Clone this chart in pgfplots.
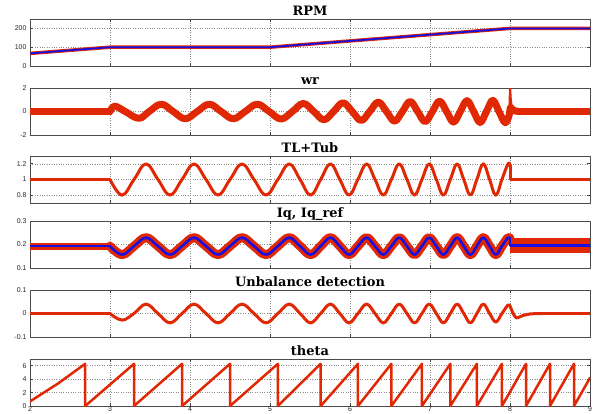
\documentclass[border=0pt]{standalone}
\usepackage{pgfplots}
\pgfplotsset{compat=1.18}
\usepackage{pgfplotstable}
\usepackage{fontspec}
\setmainfont{Liberation Sans}
\newfontfamily\titlefont{DejaVu Serif}
\definecolor{sred}{RGB}{225,40,5}
\definecolor{sblue}{RGB}{25,15,225}

% oscillating part, 3 s .. 8 s, one row every quarter period
\pgfplotstableread{
t tl iq un
3.000 1.0 0.193 0
3.150 0.8 0.157 -0.028
3.300 1.0 0.193 0
3.450 1.2 0.229 0.040
3.600 1.0 0.193 0
3.750 0.8 0.157 -0.040
3.900 1.0 0.193 0
4.050 1.2 0.229 0.040
4.200 1.0 0.193 0
4.350 0.8 0.157 -0.040
4.500 1.0 0.193 0
4.650 1.2 0.229 0.040
4.800 1.0 0.193 0
4.950 0.8 0.157 -0.040
5.098 1.0 0.193 0
5.240 1.2 0.229 0.040
5.376 1.0 0.193 0
5.507 0.8 0.157 -0.040
5.633 1.0 0.193 0
5.755 1.2 0.229 0.040
5.873 1.0 0.193 0
5.988 0.8 0.157 -0.040
6.099 1.0 0.193 0
6.207 1.2 0.229 0.040
6.313 1.0 0.193 0
6.416 0.8 0.157 -0.040
6.517 1.0 0.193 0
6.615 1.2 0.229 0.040
6.712 1.0 0.193 0
6.806 0.8 0.157 -0.040
6.899 1.0 0.193 0
6.990 1.2 0.229 0.040
7.079 1.0 0.193 0
7.167 0.8 0.157 -0.040
7.254 1.0 0.193 0
7.339 1.2 0.229 0.040
7.422 1.0 0.193 0
7.505 0.8 0.157 -0.040
7.586 1.0 0.193 0
7.666 1.2 0.229 0.040
7.745 1.0 0.193 0
7.822 0.8 0.157 -0.036
7.899 1.0 0.193 0
7.975 1.2 0.229 0.036
8.000 1.173 0.224 0.032
}\osc

\pgfplotsset{
  panel/.style={
    scale only axis, width=560bp, height=47bp, anchor=north west,
    xmin=2, xmax=9, xtick={2,...,9}, xticklabels={},
    grid=major, grid style={dotted, black!45, line width=0.6bp},
    axis line style={black!70, line width=1bp},
    every tick/.style={black!75, line width=0.8bp},
    major tick length=3bp, tick align=inside,
    ticklabel style={font=\fontsize{7}{8}\selectfont, text=black!85},
    xticklabel style={inner sep=0.8bp},
    every axis title shift=0pt,
    title style={at={(0.5,1)}, anchor=base, yshift=3.5bp,
      font=\titlefont\bfseries\fontsize{13}{15}\selectfont},
    every axis plot/.append style={line join=round, line cap=round},
  },
}

\begin{document}
\begin{tikzpicture}
\useasboundingbox (-30bp,19bp) rectangle (568bp,-395bp);

% RPM
\begin{axis}[panel, at={(0,0)}, title={RPM},
  ymin=0, ymax=250, ytick={0,100,200}, yticklabels={0,100,200}]
\addplot[sred, line width=3.5bp] coordinates {(2,67) (3,100) (5,100) (8,200) (9,200)};
\addplot[sblue, line width=1.8bp] coordinates {(2,67) (3,100) (5,100) (8,200) (9,200)};
\end{axis}

% wr
\begin{axis}[panel, at={(0,-69bp)}, title={wr},
  ymin=-2, ymax=2, ytick={-2,0,2}, yticklabels={-2,0,2}]
\addplot[sred, line width=6.5bp] coordinates {(2,0) (3,0)};
\addplot[sred, line width=7bp, smooth, tension=0.65] coordinates {
  (3,0) (3.06,0.45) (3.19,0) (3.36,-0.58) (3.49,0) (3.64,0.62) (3.79,0)
  (3.94,-0.62) (4.09,0) (4.24,0.62) (4.39,0) (4.54,-0.62) (4.69,0) (4.84,0.62)
  (4.99,0) (5.138,-0.64) (5.280,0) (5.416,0.68) (5.547,0) (5.673,-0.7)
  (5.795,0) (5.913,0.74) (6.028,0) (6.139,-0.76) (6.247,0) (6.353,0.8)
  (6.456,0) (6.557,-0.82) (6.655,0) (6.752,0.85) (6.846,0) (6.939,-0.86)
  (7.030,0) (7.119,0.88) (7.207,0) (7.294,-0.9) (7.379,0) (7.462,0.92)
  (7.545,0) (7.626,-0.93) (7.706,0) (7.785,0.95) (7.862,0) (7.939,-0.95)
  (7.99,-0.3) (8.005,0.35) (8.03,0.15) (8.07,0.04) (8.12,0)};
\addplot[sred, line width=6.5bp] coordinates {(8.12,0) (9,0)};
\addplot[sred, line width=2.4bp] coordinates {
  (7.998,0) (8.0,1.95) (8.008,1.0) (8.018,0.45)};
\end{axis}

% TL+Tub
\begin{axis}[panel, at={(0,-137bp)}, title={TL+Tub},
  ymin=0.7, ymax=1.3, ytick={0.8,1,1.2}, yticklabels={0.8,1,1.2}]
\addplot[sred, line width=3bp] coordinates {(2,1) (3,1)};
\addplot[sred, line width=3bp, smooth, tension=0.65] table[x=t, y=tl] {\osc};
\addplot[sred, line width=3bp] coordinates {(8,1.173) (8,1) (9,1)};
\end{axis}

% Iq, Iq_ref
\begin{axis}[panel, at={(0,-202bp)}, title={Iq, Iq\_ref},
  ymin=0.1, ymax=0.3, ytick={0.1,0.2,0.3}, yticklabels={0.1,0.2,0.3}]
\addplot[sred, line width=7bp, line cap=butt] coordinates {(2,0.192) (3,0.192)};
\addplot[sred, line width=9bp, smooth, tension=0.65] table[x=t, y=iq] {\osc};
\addplot[sred, line width=15bp, line cap=butt] coordinates {(8,0.195) (9,0.195)};
\addplot[sblue, line width=2.6bp] coordinates {(2,0.193) (3,0.193)};
\addplot[sblue, line width=2.6bp, smooth, tension=0.65] table[x=t, y=iq] {\osc};
\addplot[sblue, line width=2.6bp] coordinates {(8,0.224) (8,0.195) (9,0.195)};
\end{axis}

% Unbalance detection
\begin{axis}[panel, at={(0,-271bp)}, title={Unbalance detection},
  ymin=-0.1, ymax=0.1, ytick={-0.1,0,0.1}, yticklabels={-0.1,0,0.1}]
\addplot[sred, line width=3bp] coordinates {(2,0) (3,0)};
\addplot[sred, line width=3bp, smooth, tension=0.65] table[x=t, y=un] {\osc};
\addplot[sred, line width=3bp, smooth] coordinates {
  (8,0.032) (8.04,0) (8.08,-0.019) (8.15,-0.01) (8.25,-0.002) (8.4,0)};
\addplot[sred, line width=3bp] coordinates {(8.4,0) (9,0)};
\end{axis}

% theta
\begin{axis}[panel, at={(0,-340bp)}, title={theta},
  ymin=0, ymax=7, ytick={0,2,4,6}, yticklabels={0,2,4,6},
  xticklabels={2,3,4,5,6,7,8,9}]
\addplot[sred, line width=2.5bp] coordinates {
  (2,0.68) (2.35,3.35) (2.69,6.28) (2.69,0) (3.3,6.28) (3.3,0) (3.9,6.28) (3.9,0)
  (4.5,6.28) (4.5,0) (5.098,6.28) (5.098,0) (5.633,6.28) (5.633,0)
  (6.099,6.28) (6.099,0) (6.517,6.28) (6.517,0) (6.899,6.28) (6.899,0)
  (7.254,6.28) (7.254,0) (7.586,6.28) (7.586,0) (7.899,6.28) (7.899,0)
  (8.2,6.28) (8.2,0) (8.5,6.28) (8.5,0) (8.8,6.28) (8.8,0) (9,4.19)};
\end{axis}
\end{tikzpicture}
\end{document}
